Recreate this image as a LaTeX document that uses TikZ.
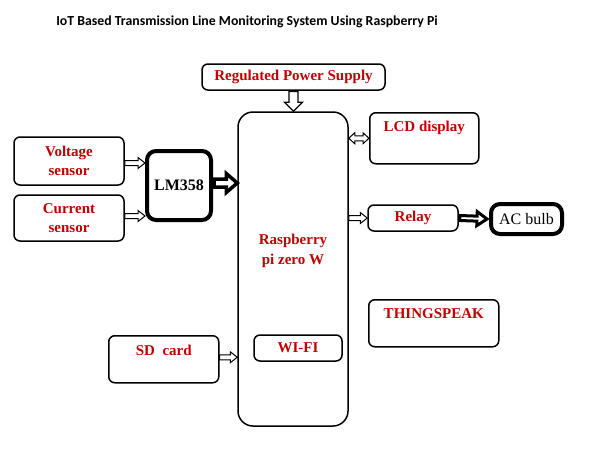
\documentclass[tikz,border=0pt]{standalone}
\usepackage{fontspec}
\setmainfont{Liberation Serif}
\newfontfamily\titlefont{Carlito}
\usetikzlibrary{calc}
\definecolor{dred}{RGB}{192,0,0}

\tikzset{
    shaftW/.store in=\shaftW, headW/.store in=\headW, headL/.store in=\headL,
    shaftW=2.5, headW=5.5, headL=7,
    blockArr/.style={draw,fill=white,line width=1pt,line join=miter,
        to path={let \p1=($(\tikztotarget)-(\tikztostart)$), \n1={veclen(\x1,\y1)},
            \n2={atan2(\y1,\x1)} in
            {[shift={(\tikztostart)},rotate=\n2]
            (0,\shaftW) -- ({\n1-\headL},\shaftW) -- ({\n1-\headL},\headW) -- (\n1,0)
            -- ({\n1-\headL},-\headW) -- ({\n1-\headL},-\shaftW) -- (0,-\shaftW) -- cycle}}},
    blockArrTwo/.style={draw,fill=white,line width=1pt,
        to path={let \p1=($(\tikztotarget)-(\tikztostart)$), \n1={veclen(\x1,\y1)},
            \n2={atan2(\y1,\x1)} in
            {[shift={(\tikztostart)},rotate=\n2]
            (0,0) -- (\headL,\headW) -- (\headL,\shaftW) -- ({\n1-\headL},\shaftW)
            -- ({\n1-\headL},\headW) -- (\n1,0) -- ({\n1-\headL},-\headW)
            -- ({\n1-\headL},-\shaftW) -- (\headL,-\shaftW) -- (\headL,-\headW) -- cycle}}},
}

\begin{document}
\begin{tikzpicture}[x=1pt,y=-1pt,
    blkBox/.style={draw,rounded corners=6pt,line width=1.5pt,inner sep=0pt,align=center,
        font=\fontsize{15}{19}\selectfont\bfseries,text=dred},
    thkBox/.style={draw,rounded corners=9pt,line width=4pt,inner sep=0pt,
        font=\fontsize{16}{19}\selectfont\bfseries},
    fatArr/.style={blockArr,line width=3.5pt},
]
\useasboundingbox (0,0) rectangle (593,458);
% Title
\node[font=\titlefont\bfseries\fontsize{13.8}{16}\selectfont] (title) at (247,22)
    {IoT Based Transmission Line Monitoring System Using Raspberry Pi};
% Power and controller
\node[blkBox,minimum width=183,minimum height=26] (psu) at (293.5,77) {Regulated Power Supply};
\node[blkBox,rounded corners=15pt,minimum width=110,minimum height=314] (pi) at (293,269) {};
\node[text=dred,font=\fontsize{15}{20}\selectfont\bfseries,align=center] (pitxt) at (293,251)
    {Raspberry\\pi zero W};
\node[blkBox,minimum width=88,minimum height=26] (wifi) at (298,348) {WI-FI};
% Sensors
\node[blkBox,minimum width=110,minimum height=48] (vs) at (69,161) {Voltage\\sensor};
\node[blkBox,minimum width=110,minimum height=46] (cs) at (69,218) {Current\\sensor};
\node[thkBox,minimum width=64,minimum height=69] (lm) at (179,185.5) {LM358};
\node[blkBox,anchor=north west,minimum width=110,text height=20,text depth=27] (sd) at (108,335) {SD\ \ card};
% Outputs
\node[blkBox,anchor=north west,minimum width=109,text height=19,text depth=32] (lcd) at (369,112) {LCD display};
\node[blkBox,minimum width=90,minimum height=26] (relay) at (413,218) {Relay};
\node[thkBox,minimum width=71,minimum height=30,font=\fontsize{16}{19}\selectfont] (bulb) at (526.5,219) {AC bulb};
\node[blkBox,anchor=north west,minimum width=130,text height=19,text depth=28] (ts) at (368,299) {THINGSPEAK};
% Arrows
\draw[blockArr,shaftW=4.5,headW=9,headL=9,line width=1.2pt] ([yshift=-0.8]psu.south) to (psu.south |- pi.north);
\draw[blockArr] ([yshift=-2]vs.east) to ([yshift=-2]vs.east -| lm.west);
\draw[blockArr] ([yshift=2]cs.east) to ([yshift=2]cs.east -| lm.west);
\draw[fatArr,shaftW=4,headW=9.5,headL=11] ([xshift=1,yshift=2.5]lm.east) to ([yshift=2.5]lm.east -| pi.west);
\draw[blockArrTwo,headL=6] (lcd.west -| pi.east) to (lcd.west);
\draw[blockArr] (relay.west -| pi.east) to (relay.west);
\draw[fatArr,line width=3pt,shaftW=2.5,headW=7,headL=10] ([xshift=1]relay.east) to ([xshift=-2]bulb.west);
\draw[blockArr] ([yshift=2]sd.east) to ([yshift=2]sd.east -| pi.west);
\end{tikzpicture}
\end{document}
